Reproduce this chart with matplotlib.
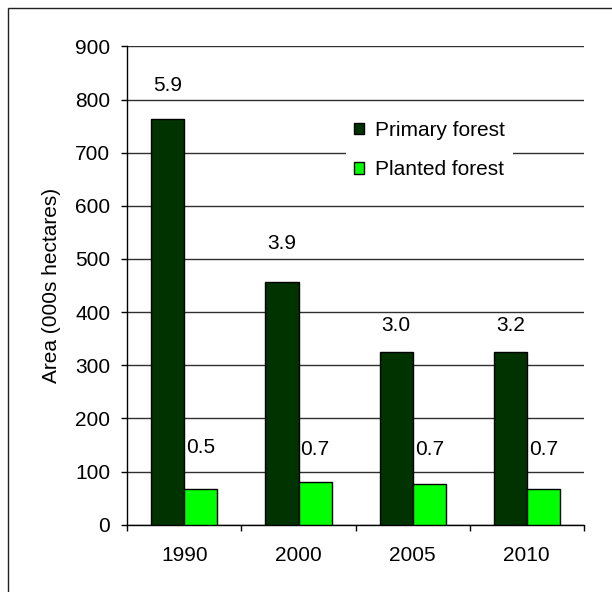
import matplotlib
matplotlib.use('Agg')
import matplotlib.pyplot as plt
import matplotlib.patches as mpatches
import numpy as np

plt.rcParams['font.family'] = ['Liberation Sans', 'DejaVu Sans']

##data
years = ['1990', '2000', '2005', '2010']
primary = [764, 456, 325, 325]
planted = [68, 80, 76, 68]
primary_pct = ['5.9', '3.9', '3.0', '3.2']
planted_pct = ['0.5', '0.7', '0.7', '0.7']

dark_green = '#003300'
light_green = '#00ff00'
fs = 15

fig = plt.figure(figsize=(6.12, 5.92), dpi=100)
ax = fig.add_axes([0.208, 0.1137, 0.746, 0.808])

x = np.arange(len(years))
w = 0.29
ax.bar(x - w / 2, primary, w, color=dark_green, edgecolor='black',
       linewidth=1.0, label='Primary forest', zorder=3)
ax.bar(x + w / 2, planted, w, color=light_green, edgecolor='black',
       linewidth=1.0, label='Planted forest', zorder=3)

##percent labels over the bars
prim_lab_y = [827, 529, 375, 375]
plant_lab_y = [146, 142, 142, 142]
for i in range(len(years)):
    ax.text(x[i] - w / 2, prim_lab_y[i], primary_pct[i], ha='center',
            va='center', fontsize=fs)
    ax.text(x[i] + w / 2, plant_lab_y[i], planted_pct[i], ha='center',
            va='center', fontsize=fs)

ax.set_xlim(-0.5, len(years) - 0.5)
ax.set_ylim(0, 900)
ax.set_yticks(np.arange(0, 901, 100))
ax.set_xticks(x)
ax.set_xticklabels(years, fontsize=fs)
ax.set_xticks(np.arange(-0.5, len(years), 1.0), minor=True)
ax.tick_params(axis='x', which='major', length=0, pad=15)
ax.tick_params(axis='x', which='minor', length=4.2, width=1.0, direction='out')
ax.tick_params(axis='y', length=4.3, width=1.0, pad=8, labelsize=fs)

ax.yaxis.grid(True, color='#303030', linewidth=1.0, zorder=0)
ax.set_axisbelow(True)
for s in ['top', 'right']:
    ax.spines[s].set_visible(False)
for s in ['left', 'bottom']:
    ax.spines[s].set_linewidth(1.0)
    ax.spines[s].set_color('black')

ax.set_ylabel('Area (000s hectares)', fontsize=fs, labelpad=10)

leg = ax.legend(loc='upper left', bbox_to_anchor=(0.479, 0.861),
                borderaxespad=0, fontsize=fs, frameon=True, fancybox=False,
                facecolor='white', edgecolor='none', framealpha=1,
                handlelength=0.45, handleheight=0.45, handletextpad=0.55,
                labelspacing=0.97, borderpad=0.4)
leg.set_zorder(5)

##outer frame
frame = mpatches.Rectangle((8.3 / 612, -0.1), 2, 583.7 / 592 + 0.1,
                           transform=fig.transFigure, fill=False,
                           edgecolor='#202020', linewidth=1.0)
fig.patches.append(frame)

fig.savefig('out.png', dpi=100)
